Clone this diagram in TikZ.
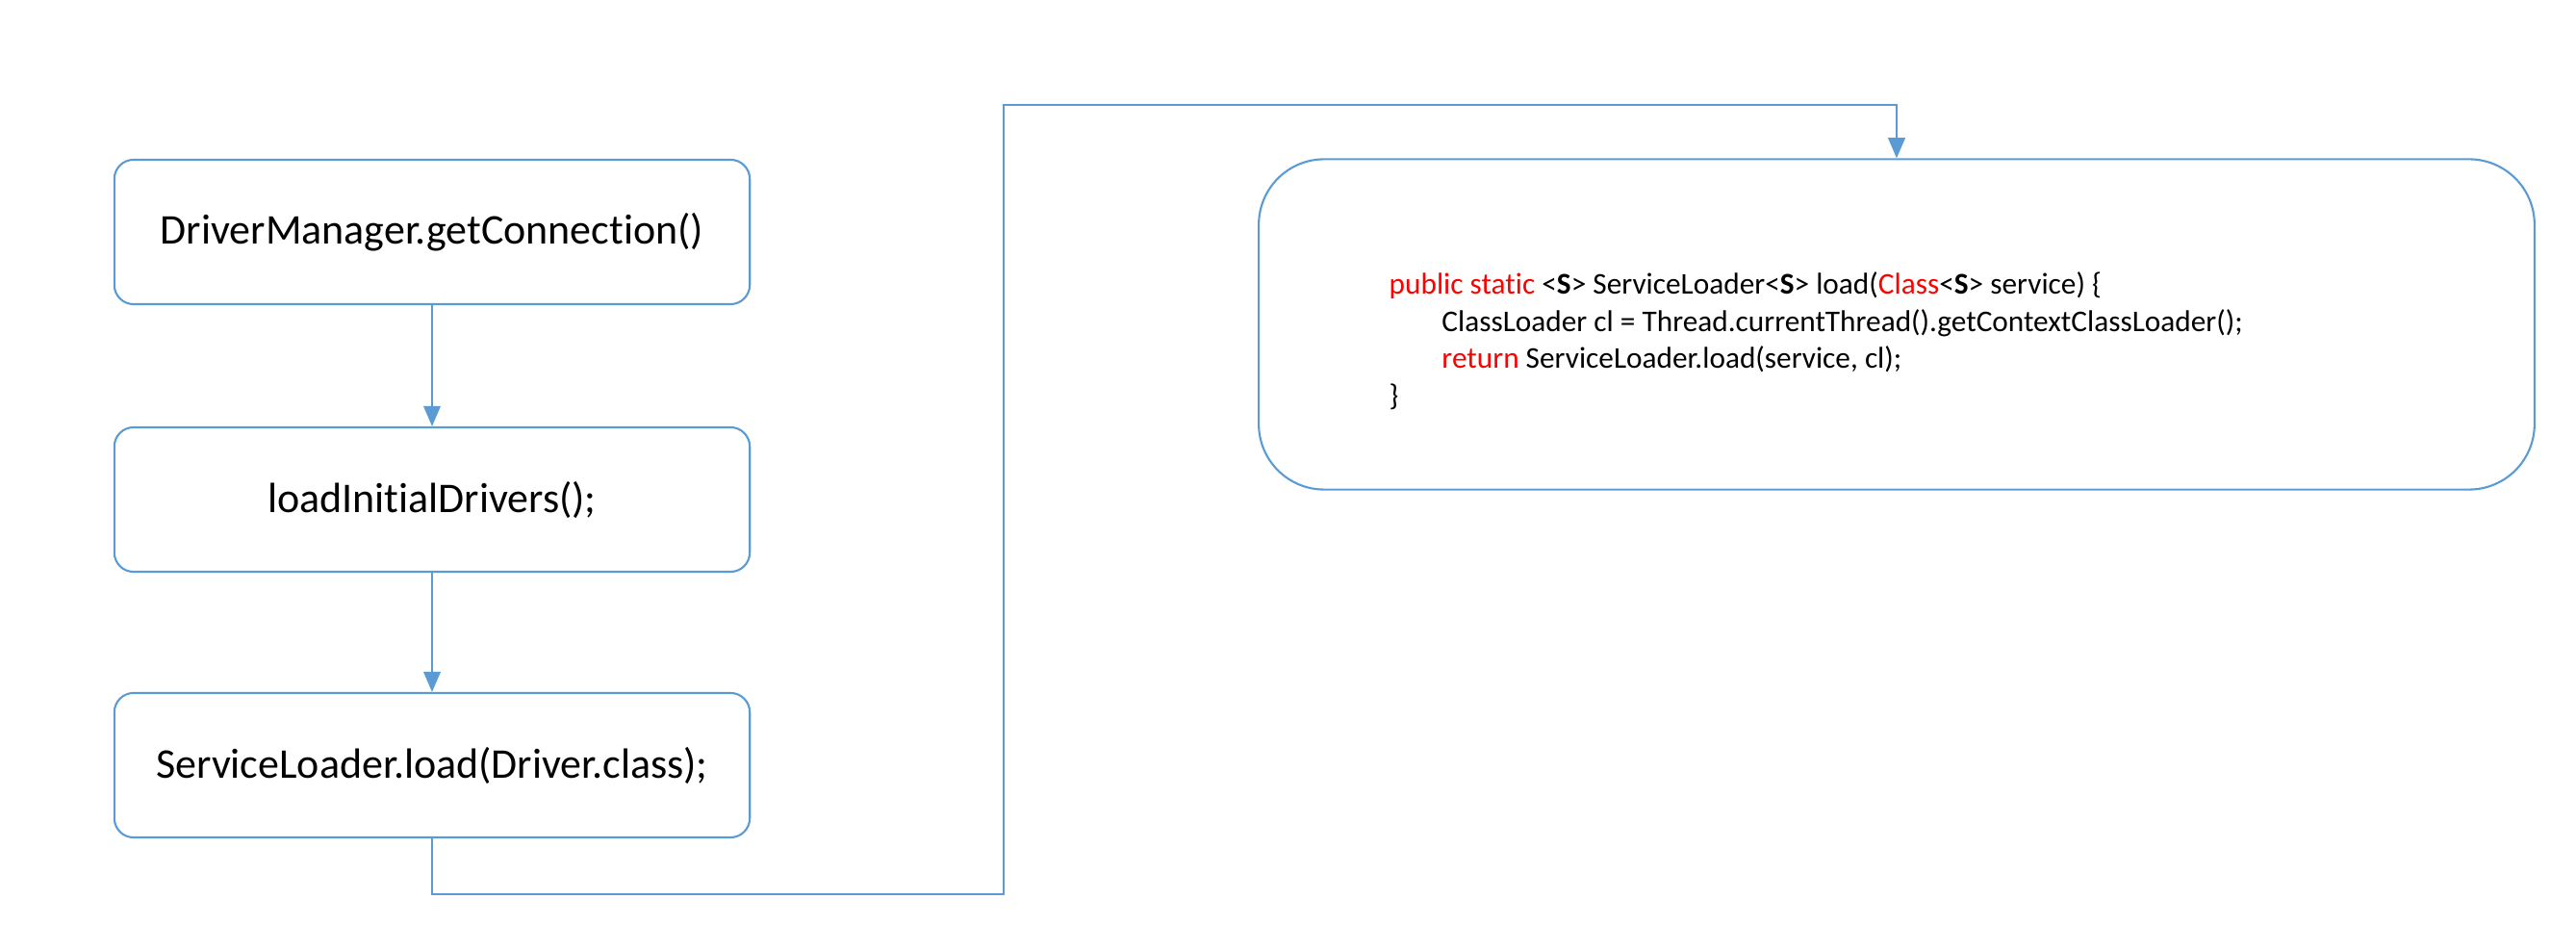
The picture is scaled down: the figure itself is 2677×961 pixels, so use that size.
\documentclass[tikz,border=0pt]{standalone}
\usepackage{fontspec}
\setmainfont[Ligatures={NoCommon}]{Carlito}
\usetikzlibrary{arrows.meta,positioning}
\definecolor{lineblue}{HTML}{5B9BD5}
\definecolor{kwred}{HTML}{FF0000}
\newcommand{\kw}[1]{\textcolor{kwred}{#1}}

\begin{document}
\begin{tikzpicture}[x=0.01cm, y=-0.01cm,
  stepbox/.style={draw=lineblue, line width=0.6pt, rounded corners=0.2cm,
    minimum width=6.6cm, minimum height=1.5cm, font=\fontsize{12.5}{15}\selectfont},
  codebox/.style={draw=lineblue, line width=0.6pt, rounded corners=0.68cm,
    minimum width=13.25cm, minimum height=3.43cm},
  arr/.style={draw=lineblue, line width=0.6pt, -{Triangle[length=6pt,width=5pt]}}]
\useasboundingbox (0,0) rectangle (2677,961);
\node[stepbox] (conn) at (449,241) {DriverManager.getConnection()};
\node[stepbox] (init) at (449,519) {loadInitialDrivers();};
\node[stepbox] (load) at (449,795) {ServiceLoader.load(Driver.class);};
\node[codebox] (code) at (1971,337) {};
\node[anchor=north west, align=left, inner sep=0pt, font=\fontsize{8.9}{11}\selectfont]
  (codetext) at (1443,282) {%
  \kw{public static} <\textbf{S}> ServiceLoader<\textbf{S}> load(\kw{Class}<\textbf{S}> service) \{\\
  \hspace*{1.75em}ClassLoader cl = Thread.currentThread().getContextClassLoader();\\
  \hspace*{1.75em}\kw{return} ServiceLoader.load(service, cl);\\
  \}};
\coordinate (low) at (1043,929);
\coordinate (high) at (1043,109);
\draw[arr] (conn) -- (init);
\draw[arr] (init) -- (load);
\draw[arr] (load.south) |- (low) -- (high) -| (code.north);
\end{tikzpicture}
\end{document}
